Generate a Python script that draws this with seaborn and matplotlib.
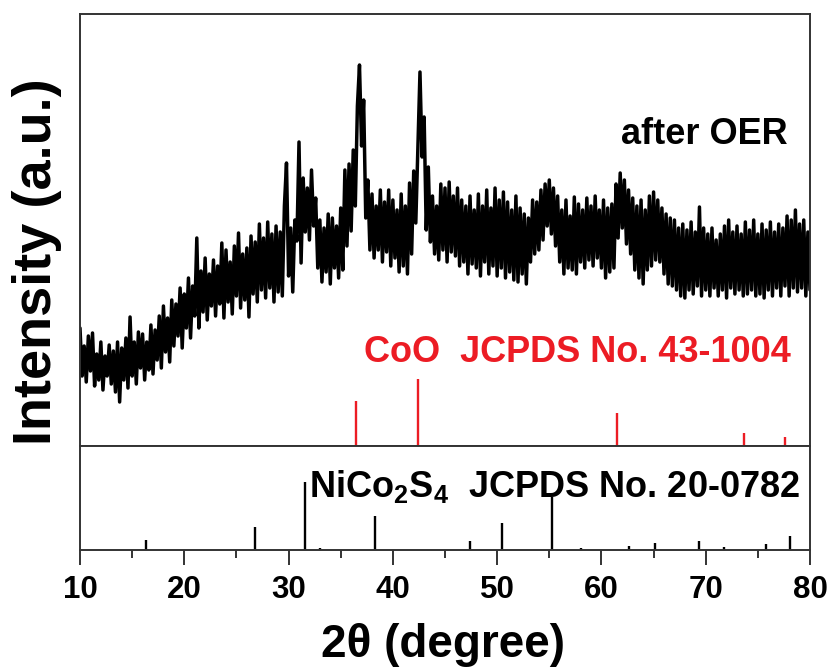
import numpy as np
import pandas as pd
import matplotlib
matplotlib.use("Agg")
import matplotlib.pyplot as plt
import seaborn as sns

# ---------------- data ----------------
scan_start, scan_end = 10.0, 80.0          # 2theta range of the scan (0.2 deg step)
intensity = [
    118, 70, 100, 64, 110,   # 10
    75, 113, 60, 92, 66,     # 11
    104, 56, 90, 70, 101,    # 12
    62, 95, 54, 104, 44,     # 13
    98, 66, 108, 58, 129,    # 14
    70, 104, 62, 114, 78,    # 15
    112, 66, 104, 76, 121,   # 16
    72, 116, 86, 130, 78,    # 17
    140, 94, 128, 84, 146,   # 18
    100, 142, 110, 158, 98,  # 19
    152, 118, 168, 108, 160, # 20
    130, 208, 118, 175, 134, # 21
    188, 126, 172, 140, 186, # 22
    130, 180, 142, 203, 128, # 23
    196, 144, 184, 132, 200, # 24
    150, 213, 138, 192, 146, # 25
    198, 129, 210, 152, 204, # 26
    144, 222, 156, 208, 148, # 27
    224, 158, 212, 144, 220, # 28
    154, 214, 150, 240, 283, # 29
    170, 218, 154, 226, 205, # 30
    304, 183, 268, 214, 258, # 31
    206, 276, 220, 248, 178, # 32
    226, 164, 218, 174, 232, # 33
    162, 228, 178, 220, 168, # 34
    238, 176, 276, 200, 282, # 35
    215, 296, 240, 340, 381, # 36
    300, 346, 228, 266, 196, # 37
    252, 188, 240, 196, 256, # 38
    184, 244, 194, 256, 180, # 39
    246, 188, 236, 174, 252, # 40
    180, 240, 172, 263, 192, # 41
    275, 223, 300, 374, 289, # 42
    329, 216, 279, 204, 250, # 43
    192, 240, 186, 262, 196, # 44
    258, 184, 264, 194, 250, # 45
    190, 258, 180, 246, 184, # 46
    240, 172, 250, 182, 236, # 47
    178, 252, 170, 240, 184, # 48
    256, 172, 238, 180, 258, # 49
    170, 246, 178, 254, 168, # 50
    244, 174, 236, 166, 250, # 51
    164, 238, 172, 232, 162, # 52
    228, 184, 246, 192, 244, # 53
    196, 256, 206, 262, 220, # 54
    266, 212, 258, 200, 250, # 55
    184, 236, 172, 246, 178, # 56
    230, 176, 249, 172, 242, # 57
    184, 236, 178, 248, 186, # 58
    240, 180, 250, 188, 236, # 59
    178, 246, 168, 238, 174, # 60
    242, 178, 262, 208, 273, # 61
    218, 266, 202, 256, 192, # 62
    248, 176, 240, 168, 246, # 63
    162, 236, 176, 250, 180, # 64
    254, 186, 246, 184, 238, # 65
    172, 232, 162, 228, 160, # 66
    226, 156, 218, 150, 222, # 67
    148, 216, 156, 224, 152, # 68
    214, 160, 239, 150, 218, # 69
    156, 212, 150, 218, 158, # 70
    206, 150, 212, 156, 220, # 71
    148, 226, 158, 214, 152, # 72
    220, 156, 212, 150, 224, # 73
    152, 216, 156, 226, 150, # 74
    212, 152, 222, 148, 216, # 75
    156, 224, 150, 214, 158, # 76
    222, 150, 218, 160, 230, # 77
    150, 226, 158, 236, 154, # 78
    222, 158, 226, 150, 214, # 79
    156,                     # 80
]

coo_pos = [36.5, 42.4, 61.5, 73.7, 77.6]
coo_int = [45, 67, 33, 13, 9]

nico_pos = [16.3, 26.8, 31.6, 33.0, 38.3, 47.4, 50.5, 55.3, 58.0, 62.6,
            65.1, 69.4, 71.8, 75.8, 78.1]
nico_int = [10, 23, 68, 2, 34, 9, 27, 53, 2, 4, 7, 9, 3, 6, 14]

x_ticks = [10, 20, 30, 40, 50, 60, 70, 80]

two_theta = np.linspace(scan_start, scan_end, len(intensity))
df = pd.DataFrame({"two_theta": two_theta, "intensity": intensity})

# ---------------- style ----------------
sns.set_style("ticks")
plt.rcParams["font.family"] = ["Liberation Sans", "DejaVu Sans"]
plt.rcParams["font.weight"] = "bold"
plt.rcParams["text.color"] = "black"
plt.rcParams["xtick.labelcolor"] = "black"
plt.rcParams["mathtext.fontset"] = "custom"
plt.rcParams["mathtext.rm"] = "Liberation Sans:bold"
plt.rcParams["mathtext.it"] = "Liberation Sans:bold"
plt.rcParams["mathtext.bf"] = "Liberation Sans:bold"

W, H = 832, 671
fig = plt.figure(figsize=(W / 100, H / 100), dpi=100)

left, right = 80 / W, 810 / W
ax_top = fig.add_axes([left, 1 - 446 / H, right - left, (446 - 14) / H])
ax_bot = fig.add_axes([left, 1 - 550 / H, right - left, (550 - 446) / H], sharex=ax_top)

red = "#ec1c24"
spine_c = "#333333"

sns.lineplot(data=df, x="two_theta", y="intensity", ax=ax_top, color="black",
             lw=2.5, estimator=None, sort=False, legend=False)
ax_top.vlines(coo_pos, 0, coo_int, color=red, lw=1.7)
ax_bot.vlines(nico_pos, 0, nico_int, color="black", lw=1.7)

ax_top.set_xlim(scan_start, scan_end)
ax_top.set_ylim(0, 432)
ax_bot.set_ylim(0, 104)

for ax in (ax_top, ax_bot):
    for s in ax.spines.values():
        s.set_visible(True)
        s.set_color(spine_c)
        s.set_linewidth(1.4)
    ax.set_yticks([])
    ax.set_xlabel("")
    ax.set_ylabel("")

ax_top.tick_params(axis="x", which="both", bottom=False, labelbottom=False)
ax_bot.set_xticks(x_ticks)
ax_bot.set_xticks([15, 25, 35, 45, 55, 65, 75], minor=True)
ax_bot.set_xticklabels([str(t) for t in x_ticks])
ax_bot.tick_params(axis="x", which="major", direction="out", length=11, width=1.4,
                   color=spine_c, labelsize=22.5, pad=7, labelcolor="black")
ax_bot.tick_params(axis="x", which="minor", direction="out", length=6, width=1.4,
                   color=spine_c)
for lab in ax_bot.get_xticklabels():
    lab.set_fontweight("bold")

ax_top.text(77.9, 302, "after OER", ha="right", va="baseline",
            fontsize=26, fontweight="bold", color="black")
ax_top.text(57.74, 84, "CoO  JCPDS No. 43-1004", ha="center", va="baseline",
            fontsize=26, fontweight="bold", color=red)
ax_bot.text(55.5, 53.3, r"NiCo$_2$S$_4$  JCPDS No. 20-0782", ha="center", va="baseline",
            fontsize=26, fontweight="bold", color="black")

fig.text(37 / W, 1 - 262 / H, "Intensity (a.u.)", rotation=90, ha="center", va="center",
         fontsize=39, fontweight="bold", color="black")
fig.text(443 / W, 1 - 657 / H, "2θ (degree)", ha="center", va="baseline",
         fontsize=33, fontweight="bold", color="black")

fig.savefig("out.png", dpi=100)
